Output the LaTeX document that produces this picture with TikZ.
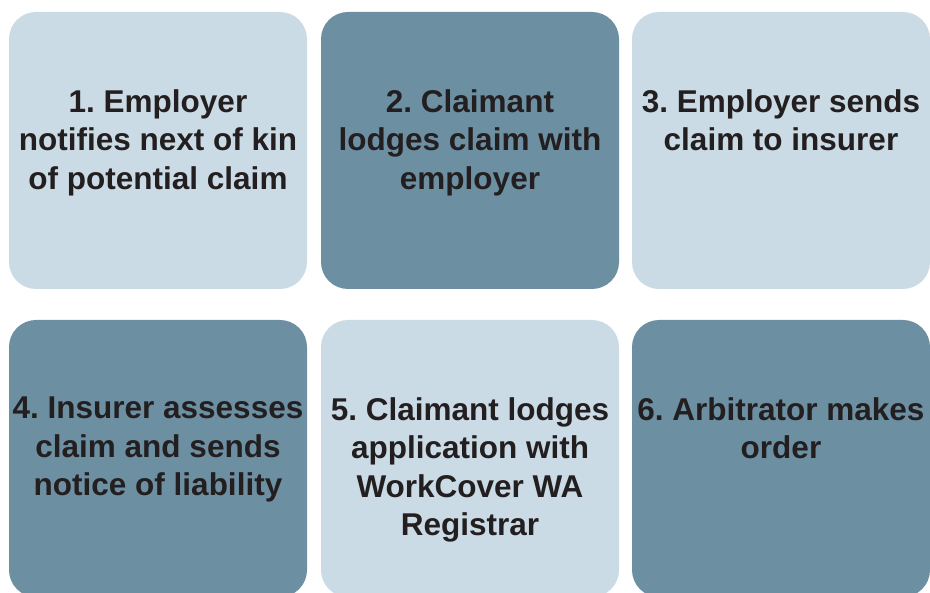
\documentclass[tikz,border=0pt]{standalone}
\usepackage{fontspec}
\setmainfont{Liberation Sans}
\frenchspacing
\definecolor{lightbox}{HTML}{CBDBE5}
\definecolor{darkbox}{HTML}{6C8FA2}
\definecolor{txt}{HTML}{231F20}
\begin{document}
\begin{tikzpicture}[x=1pt,y=-1pt,
  card/.style={rounded corners=27pt},
  label/.style={anchor=north,align=center,inner sep=0pt,text=txt,
    font=\fontsize{31.5}{38.5}\selectfont\bfseries}]
\useasboundingbox (0,0) rectangle (930,593);
\begin{scope}
\clip (0,0) rectangle (930,593);
\fill[lightbox,card] (9,12) rectangle (307,289);
\fill[darkbox,card] (321,12) rectangle (619,289);
\fill[lightbox,card] (632,12) rectangle (930,289);
\fill[darkbox,card] (9,320) rectangle (307,597);
\fill[lightbox,card] (321,320) rectangle (619,597);
\fill[darkbox,card] (632,320) rectangle (930,597);
\end{scope}
\node[label] (t1) at (158,89) {1. Employer\\notifies next of kin\\of potential claim};
\node[label] (t2) at (470,89) {2. Claimant\\lodges claim with\\employer};
\node[label] (t3) at (781,89) {3. Employer sends\\claim to insurer};
\node[label] (t4) at (158,397) {4. Insurer assesses\\claim and sends\\notice of liability};
\node[label] (t5) at (470,397) {5. Claimant lodges\\application with\\WorkCover WA\\Registrar};
\node[label] (t6) at (781,397) {6. Arbitrator makes\\order};
\end{tikzpicture}
\end{document}
